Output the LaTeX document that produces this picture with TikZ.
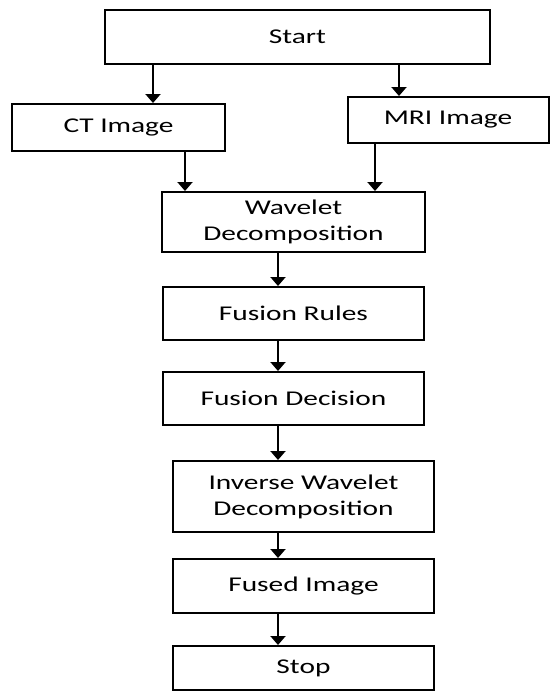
\documentclass[tikz,border=0pt]{standalone}
\usepackage{fontspec}
\setmainfont{Carlito}[FakeStretch=1.4]
\usetikzlibrary{arrows.meta,positioning}

\begin{document}
\begin{tikzpicture}[x=0.5pt,y=-0.5pt,>={Triangle[width=7.5pt,length=4.5pt]}]
			\useasboundingbox (0,0) rectangle (550,692);
			% Define the box style
			\tikzstyle{stepbox} = [draw, line width=1pt, rectangle, align=center, inner sep=0pt, font=\fontsize{10.5}{13}\selectfont];
			
			% Input boxes
			\node[stepbox, minimum width=192.5pt, minimum height=27pt] (start) at (297.5,37) {Start};
			\node[stepbox, minimum width=106.5pt, minimum height=23.5pt] (ct) at (118.5,127.5) {CT Image};
			\node[stepbox, minimum width=100.5pt, minimum height=23pt] (mri) at (448,120) {MRI Image};
			
			% Processing chain
			\node[stepbox, minimum width=131.5pt, minimum height=30pt] (wav) at (293.5,222) {Wavelet\\Decomposition};
			\node[stepbox, minimum width=130.5pt, minimum height=26.5pt] (rules) at (293.5,313.5) {Fusion Rules};
			\node[stepbox, minimum width=130.5pt, minimum height=26.5pt] (decision) at (293.5,398.5) {Fusion Decision};
			\node[stepbox, minimum width=130.5pt, minimum height=35.5pt] (inverse) at (303.5,496.5) {Inverse Wavelet\\Decomposition};
			\node[stepbox, minimum width=130.5pt, minimum height=27pt] (fused) at (303.5,586) {Fused Image};
			\node[stepbox, minimum width=130.5pt, minimum height=22pt] (stop) at (303.5,668) {Stop};
			
			% Arrow columns
			\coordinate (ctcol) at (153,0);
			\coordinate (mricol) at (399,0);
			\coordinate (ctin) at (185,0);
			\coordinate (mriin) at (375,0);
			\coordinate (spine) at (278,0);
			
			\draw[->, line width=1pt] (start.south -| ctcol) -- (ct.north -| ctcol);
			\draw[->, line width=1pt] (start.south -| mricol) -- (mri.north -| mricol);
			\draw[->, line width=1pt] (ct.south -| ctin) -- (wav.north -| ctin);
			\draw[->, line width=1pt] (mri.south -| mriin) -- (wav.north -| mriin);
			
			% Draw the arrows down the chain
			\foreach \a/\b in {wav/rules, rules/decision, decision/inverse, inverse/fused, fused/stop}
			\draw[->, line width=1pt] (\a.south -| spine) -- (\b.north -| spine);
		\end{tikzpicture}
\end{document}
